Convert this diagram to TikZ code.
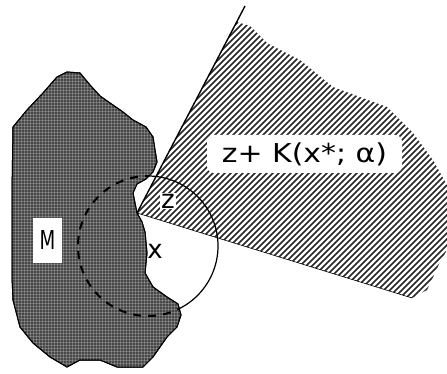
\documentclass[tikz,border=0pt]{standalone}
\usepackage{fontspec}
\setmainfont{DejaVu Sans}
\begin{document}
\begin{tikzpicture}[x=1pt,y=-1pt,
  lab/.style={fill=white, inner sep=0pt, font=\fontsize{26}{28}\selectfont},
  hatchline/.style={line width=1.6pt, black!85},
  gridline/.style={line width=0.6pt, white, opacity=0.22},
  edge/.style={line width=1.4pt, black}]
\useasboundingbox (0,0) rectangle (447,374);
\def\Mpath{(67,72) -- (80,73) -- (90,85) -- (100,96) -- (110,103) -- (123,112) -- (133,120) -- (146,127) -- (153,137) -- (155,150) -- (157,162) -- (153,172) -- (146,179) -- (137,184) -- (133,193) -- (135,203) -- (137,213) -- (142,222) -- (145,232) -- (147,253) -- (145,273) -- (153,287) -- (167,297) -- (178,304) -- (181,315) -- (177,327) -- (167,337) -- (160,347) -- (153,357) -- (143,367) -- (117,367) -- (100,360) -- (80,360) -- (67,367) -- (50,357) -- (33,343) -- (20,327) -- (13,300) -- (12,277) -- (12,193) -- (13,127) -- (27,110) -- (43,93) -- (57,77) -- cycle}
\coordinate (apex) at (137,213);
\coordinate (top) at (245,6);
\coordinate (lowend) at (412,298);
\coordinate (c) at (148,246);
% hatched cone
\begin{scope}
\clip (apex) -- (237,22) -- (250,26) -- (267,43) -- (300,60) -- (333,87) -- (387,107) -- (413,133) -- (433,160) -- (447,185) -- (447,250) -- (440,262) -- (427,290) -- (lowend) -- cycle;
\foreach \i in {-300,-294,...,460} \draw[hatchline] (\i,380) -- ++(380,-380);
\end{scope}
% circle (solid part)
\draw[line width=1.2pt] (c) circle (70pt);
% set M
\fill[black!72, draw=black, line width=1pt] \Mpath;
\begin{scope}
\clip \Mpath;
\foreach \i in {0,3,...,374} \draw[gridline] (0,\i) -- (200,\i);
\foreach \i in {0,3,...,200} \draw[gridline] (\i,60) -- (\i,374);
\draw[line width=2pt, dash pattern=on 8pt off 7pt] (c) circle (70pt);
\end{scope}
\draw[black, line width=1pt] \Mpath;
% cone edges
\draw[edge] (apex) -- (top);
\draw[line width=0.6pt] (apex) -- (lowend);
% labels
\node[lab, minimum width=195pt, minimum height=38pt, rounded corners=7pt] (K) at (304.5,154) {\scalebox{1.15}[1]{z+ K(x*; α)}};
\node[lab, minimum width=29pt, minimum height=45pt] (M) at (47.5,240.5) {\scalebox{0.7}[1]{M}};
\node[lab, inner sep=1pt] (z) at (168,201) {z};
\node[font=\fontsize{26}{28}\selectfont, inner sep=0pt] (x) at (155,251) {x};
\end{tikzpicture}
\end{document}
